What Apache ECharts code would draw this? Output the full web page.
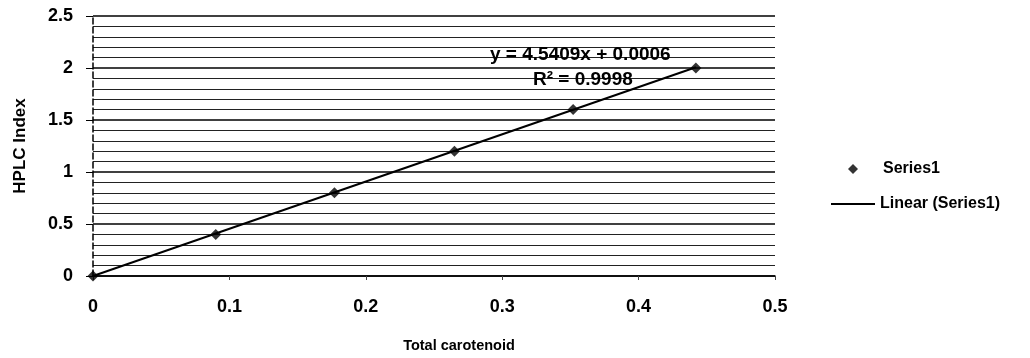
<!DOCTYPE html>
<html>
<head>
<meta charset="utf-8">
<script src="https://cdn.jsdelivr.net/npm/echarts@6/dist/echarts.min.js"></script>
<style>
html, body { margin: 0; padding: 0; background: #fff; }
#chart { width: 1030px; height: 358px; }
</style>
</head>
<body>
<div id="chart"></div>
<script>
// measured points (Total carotenoid vs HPLC Index)
var carotenoid = [0, 0.09, 0.177, 0.265, 0.352, 0.442];
var hplcIndex = [0, 0.4, 0.8, 1.2, 1.6, 2.0];
// linear trendline ends, y = 4.5409x + 0.0006
var trendX = [0, 0.442];
var trendY = [0.0006, 2.0076];
var xTicks = [0, 0.1, 0.2, 0.3, 0.4, 0.5];
var yTicks = [0, 0.5, 1, 1.5, 2, 2.5];

var font = "'Liberation Sans', Arial, sans-serif";

var points = carotenoid.map(function (x, i) { return [x, hplcIndex[i]]; });
var trend = trendX.map(function (x, i) { return [x, trendY[i]]; });

var chart = echarts.init(document.getElementById('chart'));

var option = {
  animation: false,
  backgroundColor: '#fff',
  grid: { left: 93, right: 255, top: 16, bottom: 82 },
  xAxis: {
    type: 'value',
    min: xTicks[0], max: xTicks[xTicks.length - 1], interval: 0.1,
    name: 'Total carotenoid',
    nameLocation: 'middle',
    nameGap: 62,
    nameTextStyle: { fontFamily: font, fontWeight: 'bold', fontSize: 14.5, color: '#000', padding: [0, 0, 0, 50] },
    axisLine: { show: true, lineStyle: { color: '#000', width: 1.5 } },
    axisTick: { show: true, length: 4, lineStyle: { color: '#444' } },
    axisLabel: { fontFamily: font, fontWeight: 'bold', fontSize: 18, color: '#000', margin: 22 },
    splitLine: { show: false }
  },
  yAxis: {
    type: 'value',
    min: yTicks[0], max: yTicks[yTicks.length - 1], interval: 0.5,
    name: 'HPLC Index',
    nameLocation: 'middle',
    nameGap: 64,
    nameTextStyle: { fontFamily: font, fontWeight: 'bold', fontSize: 17, color: '#000' },
    axisLine: { show: true, lineStyle: { color: '#000', width: 1.5, type: 'dashed' } },
    axisTick: { show: true, length: 7, lineStyle: { color: '#000' } },
    axisLabel: { fontFamily: font, fontWeight: 'bold', fontSize: 18, color: '#000', margin: 20 },
    splitLine: { show: true, lineStyle: { color: '#000', width: 1.5 } },
    minorTick: { show: false, splitNumber: 5 },
    minorSplitLine: { show: true, lineStyle: { color: '#222', width: 1 } }
  },
  legend: [
    {
      orient: 'vertical',
      left: 843, top: 156,
      itemWidth: 10, itemHeight: 10,
      data: [{ name: 'Series1', icon: 'diamond' }],
      textStyle: { fontFamily: font, fontWeight: 'bold', fontSize: 16, color: '#000', padding: [0, 0, 0, 20] }
    },
    {
      orient: 'vertical',
      left: 826, top: 191,
      itemWidth: 44, itemHeight: 2,
      data: [{ name: 'Linear (Series1)', icon: 'rect' }],
      textStyle: { fontFamily: font, fontWeight: 'bold', fontSize: 16, color: '#000' }
    }
  ],
  graphic: [
    {
      type: 'text', left: 490, top: 45, z: 100,
      style: { text: 'y = 4.5409x + 0.0006', font: 'bold 19px ' + font, fill: '#000' }
    },
    {
      type: 'text', left: 533, top: 70, z: 100,
      style: { text: 'R² = 0.9998', font: 'bold 19px ' + font, fill: '#000' }
    }
  ],
  series: [
    {
      name: 'Linear (Series1)',
      type: 'line',
      data: trend,
      symbol: 'none',
      lineStyle: { color: '#000', width: 2 },
      itemStyle: { color: '#000' },
      z: 3
    },
    {
      name: 'Series1',
      type: 'scatter',
      data: points,
      symbol: 'diamond',
      symbolSize: 11,
      itemStyle: { color: '#000' },
      z: 4
    }
  ]
};

chart.setOption(option);
</script>
</body>
</html>
